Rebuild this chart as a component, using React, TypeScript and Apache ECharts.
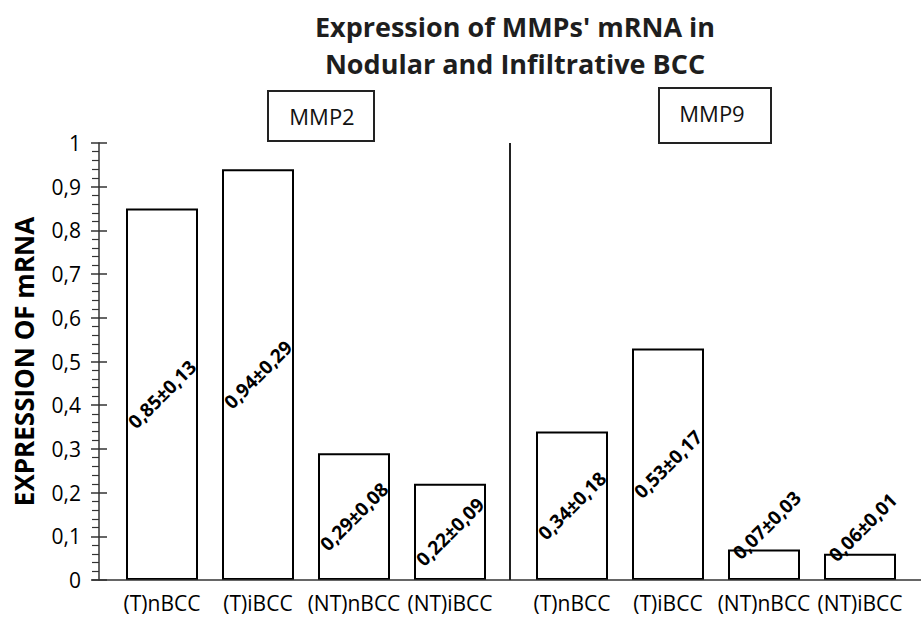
import React, { useEffect, useRef } from "react";
import * as echarts from "echarts";

const titleLines = ["Expression of MMPs' mRNA in", "Nodular and Infiltrative BCC"];
const yAxisName = "EXPRESSION OF mRNA";
const categories = ["(T)nBCC", "(T)iBCC", "(NT)nBCC", "(NT)iBCC"];
const groupNames = ["MMP2", "MMP9"];
const mmp2Means = [0.85, 0.94, 0.29, 0.22];
const mmp2SD = [0.13, 0.29, 0.08, 0.09];
const mmp9Means = [0.34, 0.53, 0.07, 0.06];
const mmp9SD = [0.18, 0.17, 0.03, 0.01];
const yMin = 0;
const yMax = 1;
const yInterval = 0.1;

const FONT = "'Open Sans', 'DejaVu Sans', sans-serif";
const comma = (v: number) => v.toFixed(2).replace(".", ",");

function buildData(means: number[], sds: number[]) {
  return means.map((m, i) => {
    const item: any = { value: m, sd: sds[i] };
    if (m < 0.1) {
      // labels of very short bars sit above the bar, as in the original
      item.label = { offset: [30, -26] };
    }
    return item;
  });
}

export default function App() {
  const ref = useRef<HTMLDivElement>(null);
  useEffect(() => {
    if (!ref.current) return;
    const chart = echarts.init(ref.current, null, { renderer: "svg" });
    const label = {
      show: true,
      position: "inside",
      rotate: 45,
      fontFamily: FONT,
      fontWeight: "bold",
      fontSize: 19,
      color: "#000",
      formatter: (p: any) => `${comma(p.data.value)}±${comma(p.data.sd)}`,
    };
    const itemStyle = { color: "#fff", borderColor: "#000", borderWidth: 2 };
    const xAxisCommon = {
      type: "category",
      data: categories,
      axisLine: { show: false },
      axisTick: { show: false },
      axisLabel: { fontFamily: FONT, fontSize: 21, color: "#000", margin: 12, interval: 0 },
    };
    chart.setOption({
      animation: false,
      backgroundColor: "#fff",
      title: {
        text: titleLines.join("\n"),
        left: 510,
        top: 3,
        textAlign: "center",
        textStyle: {
          fontFamily: FONT,
          fontWeight: "bold",
          fontSize: 27,
          lineHeight: 37,
          color: "#1e1e1e",
        },
      },
      grid: [
        { left: 114, top: 143, width: 384, height: 437 },
        { left: 524, top: 143, width: 384, height: 437 },
      ],
      xAxis: [
        { ...xAxisCommon, gridIndex: 0 },
        { ...xAxisCommon, gridIndex: 1 },
      ],
      yAxis: [
        {
          type: "value",
          gridIndex: 0,
          position: "left",
          min: yMin,
          max: yMax,
          interval: yInterval,
          offset: 15,
          name: yAxisName,
          nameLocation: "middle",
          nameGap: 62,
          nameMoveOverlap: false,
          nameTextStyle: { fontFamily: FONT, fontWeight: "bold", fontSize: 26, color: "#000" },
          axisLine: { show: true, lineStyle: { color: "#333", width: 1.5 } },
          axisTick: { show: true, length: 8, lineStyle: { color: "#333", width: 1.5 } },
          minorTick: { show: true, splitNumber: 5, length: 7, lineStyle: { color: "#333", width: 1.2 } },
          splitLine: { show: false },
          minorSplitLine: { show: false },
          axisLabel: {
            fontFamily: FONT,
            fontSize: 21,
            color: "#000",
            margin: 18,
            formatter: (v: number) => (v === 0 || v === 1 ? String(v) : v.toFixed(1).replace(".", ",")),
          },
        },
        {
          type: "value",
          gridIndex: 0,
          position: "left",
          min: yMin,
          max: yMax,
          interval: yInterval,
          offset: 15,
          axisLine: { show: false },
          axisTick: { show: true, inside: true, length: 8, lineStyle: { color: "#333", width: 1.5 } },
          splitLine: { show: false },
          axisLabel: { show: false },
        },
        {
          type: "value",
          gridIndex: 1,
          min: yMin,
          max: yMax,
          interval: yInterval,
          show: false,
          splitLine: { show: false },
        },
      ],
      series: [
        {
          name: groupNames[0],
          type: "bar",
          xAxisIndex: 0,
          yAxisIndex: 0,
          barWidth: 72,
          data: buildData(mmp2Means, mmp2SD),
          itemStyle,
          label,
        },
        {
          name: groupNames[1],
          type: "bar",
          xAxisIndex: 1,
          yAxisIndex: 2,
          barWidth: 72,
          data: buildData(mmp9Means, mmp9SD),
          itemStyle,
          label,
        },
      ],
      graphic: [
        { type: "line", shape: { x1: 92, y1: 580, x2: 921, y2: 580 }, style: { stroke: "#333", lineWidth: 1.5 }, z: 10 },
        { type: "line", shape: { x1: 510, y1: 143, x2: 510, y2: 580 }, style: { stroke: "#222", lineWidth: 2 }, z: 10 },
        {
          type: "rect",
          shape: { x: 268, y: 91, width: 106, height: 50 },
          style: { fill: "#fff", stroke: "#222", lineWidth: 2 },
        },
        {
          type: "text",
          x: 322,
          y: 116,
          style: { text: groupNames[0], fontFamily: FONT, fontSize: 22, fill: "#111", align: "center", verticalAlign: "middle" },
        },
        {
          type: "rect",
          shape: { x: 659, y: 88, width: 112, height: 55 },
          style: { fill: "#fff", stroke: "#222", lineWidth: 2 },
        },
        {
          type: "text",
          x: 712,
          y: 113,
          style: { text: groupNames[1], fontFamily: FONT, fontSize: 22, fill: "#111", align: "center", verticalAlign: "middle" },
        },
      ],
    });
    return () => chart.dispose();
  }, []);
  return (
    <div
      ref={ref}
      style={{ position: "absolute", left: 0, top: 0, width: 921, height: 617, background: "#fff" }}
    />
  );
}
